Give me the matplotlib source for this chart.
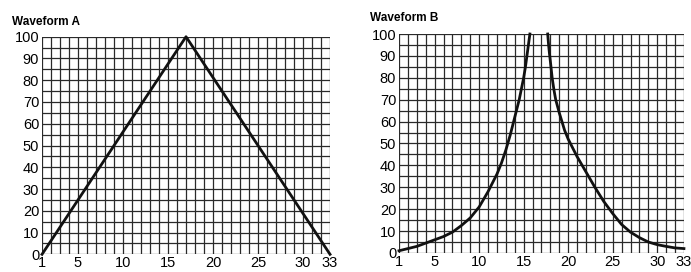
import numpy as np
import matplotlib
matplotlib.use("Agg")
import matplotlib.pyplot as plt

plt.rcParams['font.family'] = ['Liberation Sans', 'DejaVu Sans']

# Waveform A: triangle
a_x = [1, 17, 33]
a_y = [0, 100, 0]

# Waveform B: two branches rising towards the middle
b_left_x = [1, 2, 3, 4, 5, 6, 7, 8, 9, 10, 11, 12, 12.5, 13, 13.5, 14, 14.25,
            14.5, 14.75, 15, 15.2, 15.4, 15.6, 15.7]
b_left_y = [1, 2, 3, 4.5, 6, 7.5, 9.5, 12.5, 16, 21, 28, 36, 41, 47, 54, 62, 66,
            70, 75, 80, 85, 91, 97, 100]
b_right_x = [17.7, 17.8, 17.9, 18, 18.2, 18.4, 18.6, 18.8, 19, 19.3, 19.6, 20,
             20.5, 21, 22, 23, 24, 25, 26, 27, 28, 29, 30, 31, 32, 33]
b_right_y = [100, 95, 91, 87.5, 80, 74.5, 70, 67, 64, 60, 56, 52,
             48, 44, 37, 30, 23.5, 18, 13, 9.5, 7, 5, 3.8, 3, 2.3, 2]

x_ticks = [1, 5, 10, 15, 20, 25, 30, 33]
y_ticks = [0, 10, 20, 30, 40, 50, 60, 70, 80, 90, 100]

fig = plt.figure(figsize=(6.91, 2.72), dpi=100)
ax1 = fig.add_axes([0.0608, 0.065, 0.4168, 0.80])
ax2 = fig.add_axes([0.5774, 0.07, 0.4124, 0.805])


def setup(ax):
    ax.set_xlim(1, 33)
    ax.set_ylim(0, 100)
    for xv in range(1, 34):
        ax.axvline(xv, color='#2a2a2a', lw=0.9, zorder=1)
    for yv in range(0, 101, 5):
        ax.axhline(yv, color='#2a2a2a', lw=0.9, zorder=1)
    ax.set_xticks(x_ticks)
    ax.set_yticks(y_ticks)
    ax.tick_params(length=0, labelsize=10.5)
    ax.tick_params(axis='x', pad=1.5)
    ax.tick_params(axis='y', pad=2)
    for s in ax.spines.values():
        s.set_visible(False)


setup(ax1)
setup(ax2)

ax1.plot(a_x, a_y, color='#111111', lw=2.0, zorder=3, clip_on=False)
ax2.plot(b_left_x, b_left_y, color='#111111', lw=2.0, zorder=3, clip_on=False)
ax2.plot(b_right_x, b_right_y, color='#111111', lw=2.0, zorder=3, clip_on=False)

fig.text(0.017, 0.92, 'Waveform A', fontsize=8.5, fontweight='bold', ha='left', va='center')
fig.text(0.535, 0.935, 'Waveform B', fontsize=8.5, fontweight='bold', ha='left', va='center')

fig.savefig('out.png', dpi=100)
